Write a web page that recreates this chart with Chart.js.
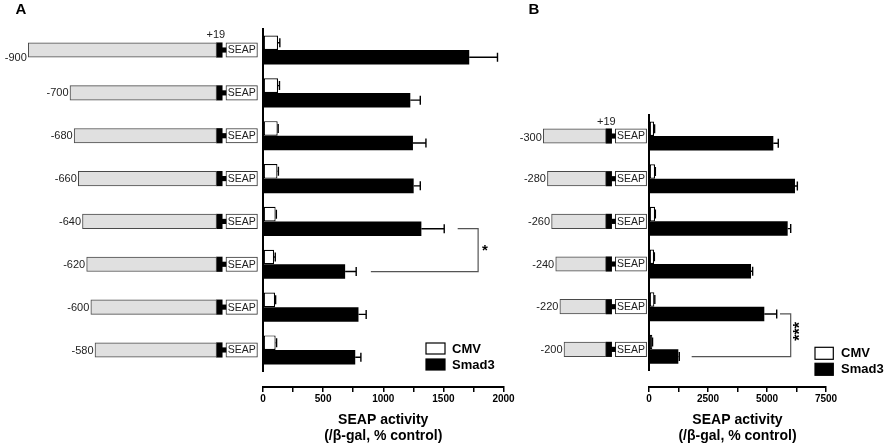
<!DOCTYPE html>
<html><head><meta charset="utf-8">
<script src="https://cdn.jsdelivr.net/npm/chart.js@4.4.1/dist/chart.umd.min.js"></script>
<style>
html,body{margin:0;padding:0;background:#fff;}
body{width:886px;height:445px;position:relative;overflow:hidden;}
canvas{position:absolute;top:0;}
</style></head><body>
<canvas id="chartA" width="524" height="445" style="left:0"></canvas>
<canvas id="chartB" width="386" height="445" style="left:500px"></canvas>
<script>
// ---------------- data ----------------
const seriesLabels = ['CMV', 'Smad3'];
const axisTitle = ['SEAP activity', '(/\u03b2-gal, % control)'];
const reporterLabel = 'SEAP';
const tssLabel = '+19';

// Panel A
const constructsA = ['-900', '-700', '-680', '-660', '-640', '-620', '-600', '-580'];
const startsA = [-900, -700, -680, -660, -640, -620, -600, -580];
const cmvA = [125, 125, 122, 120, 105, 92, 100, 105];
const cmvErrA = [15, 12, 4, 8, 6, 10, 5, 8];
const smadA = [1715, 1225, 1247, 1253, 1317, 683, 794, 767];
const smadErrA = [235, 83, 108, 55, 190, 92, 64, 47];
const tickLabelsA = [0, 500, 1000, 1500, 2000];

// Panel B
const constructsB = ['-300', '-280', '-260', '-240', '-220', '-200'];
const startsB = [-300, -280, -260, -240, -220, -200];
const cmvB = [212, 254, 254, 212, 226, 140];
const cmvErrB = [25, 15, 15, 15, 20, 10];
const smadB = [5268, 6186, 5876, 4322, 4886, 1243];
const smadErrB = [210, 100, 128, 70, 525, 40];
const tickLabelsB = [0, 2500, 5000, 7500];

// construct parts (bp relative to transcription start)
const promoterEnd = 3;
const tssBox = [3, 30];
const linker = [30, 48];
const reporterBox = [48, 199];

// ---------------- drawing helpers ----------------
const FONT = '"Liberation Sans", Arial, Helvetica, sans-serif';
Chart.defaults.font.family = FONT;
Chart.defaults.color = '#000';

const decor = {
  id: 'decor',
  afterDatasetsDraw(chart, args, o) {
    const ctx = chart.ctx;
    const xs = chart.scales.x, bp = chart.scales.x2, ys = chart.scales.y;
    const ds = chart.data.datasets;
    const role = r => ds.find(d => d.role === r);
    ctx.save();
    // error bars
    ds.forEach((d, di) => {
      if (!d.errors) return;
      const meta = chart.getDatasetMeta(di);
      ctx.strokeStyle = '#000';
      ctx.lineWidth = 1.4;
      meta.data.forEach((el, i) => {
        const a = xs.getPixelForValue(d.data[i]);
        const b = xs.getPixelForValue(d.data[i] + d.errors[i]);
        ctx.beginPath();
        ctx.moveTo(a, el.y); ctx.lineTo(b, el.y);
        ctx.moveTo(b, el.y - o.cap / 2); ctx.lineTo(b, el.y + o.cap / 2);
        ctx.stroke();
      });
    });
    // construct names
    const prom = role('promoter');
    ctx.fillStyle = '#222';
    ctx.font = '11px ' + FONT;
    ctx.textAlign = 'right';
    ctx.textBaseline = 'middle';
    chart.data.labels.forEach((lab, i) => {
      ctx.fillText(lab, bp.getPixelForValue(prom.data[i][0]) - 1.5,
        ys.getPixelForValue(i) + (i === 0 ? o.firstLabelDy : 0) + 0.5);
    });
    // reporter box text
    const rep = role('reporter');
    ctx.textAlign = 'center';
    ctx.font = '10.5px ' + FONT;
    rep.data.forEach((r, i) => {
      ctx.fillText(rep.label, bp.getPixelForValue((r[0] + r[1]) / 2), ys.getPixelForValue(i) + 0.5);
    });
    // +19
    const tss = role('tss');
    ctx.font = '11px ' + FONT;
    ctx.textAlign = 'right';
    ctx.fillText(tssLabel, bp.getPixelForValue(tss.data[0][1]) + o.tssDx, ys.getPixelForValue(0) - o.tssDy);
    // significance bracket
    const s = o.sig;
    const sm = chart.getDatasetMeta(1);
    const yLow = sm.data[s.lowRow].y, yHigh = sm.data[s.highRow].y;
    ctx.strokeStyle = '#555';
    ctx.lineWidth = 1.2;
    ctx.beginPath();
    ctx.moveTo(xs.getPixelForValue(s.lowFrom), yLow);
    ctx.lineTo(xs.getPixelForValue(s.at), yLow);
    ctx.lineTo(xs.getPixelForValue(s.at), yHigh);
    ctx.lineTo(xs.getPixelForValue(s.highFrom), yHigh);
    ctx.stroke();
    ctx.save();
    ctx.translate(xs.getPixelForValue(s.textAt), (yLow + yHigh) / 2 + s.dy);
    if (s.rotate) ctx.rotate(-Math.PI / 2);
    ctx.font = s.font;
    ctx.fillStyle = '#000';
    ctx.textAlign = 'center';
    ctx.textBaseline = 'middle';
    ctx.fillText(s.text, 0, 0);
    ctx.restore();
    // legend
    const L = o.legend;
    ctx.font = 'bold 13px ' + FONT;
    ctx.textAlign = 'left';
    ctx.textBaseline = 'middle';
    [0, 1].forEach(k => {
      const d = ds[k];
      const yy = L.y + k * L.step;
      ctx.fillStyle = d.backgroundColor;
      ctx.fillRect(L.x, yy, L.w, L.h);
      ctx.strokeStyle = '#000';
      ctx.lineWidth = 1.2;
      ctx.strokeRect(L.x, yy, L.w, L.h);
      ctx.fillStyle = '#000';
      ctx.fillText(d.label, L.x + L.textDx, yy + L.h / 2 + 0.5);
    });
    // panel letter
    ctx.font = 'bold 15px ' + FONT;
    ctx.textAlign = 'center';
    ctx.fillText(o.letter.text, o.letter.x, o.letter.y);
    ctx.restore();
  }
};

function makeChart(id, p) {
  const datasets = [
    { label: seriesLabels[0], role: 'cmv', data: p.cmv, errors: p.cmvErr, xAxisID: 'x', yAxisID: 'y',
      backgroundColor: '#ffffff', borderColor: '#000', borderWidth: 1.2, borderSkipped: false },
    { label: seriesLabels[1], role: 'smad', data: p.smad, errors: p.smadErr, xAxisID: 'x', yAxisID: 'y',
      backgroundColor: '#000000', borderColor: '#000', borderWidth: 0 },
    { label: 'promoter', role: 'promoter', data: p.starts.map(s => [s, promoterEnd]), xAxisID: 'x2', yAxisID: 'y',
      grouped: false, barThickness: 14.5, clip: false, backgroundColor: '#e0e0e0', borderColor: '#4a4a4a',
      borderWidth: 1, borderSkipped: false },
    { label: 'tss', role: 'tss', data: p.starts.map(() => tssBox.slice()), xAxisID: 'x2', yAxisID: 'y',
      grouped: false, barThickness: 14.5, clip: false, backgroundColor: '#000', borderWidth: 0 },
    { label: 'linker', role: 'linker', data: p.starts.map(() => linker.slice()), xAxisID: 'x2', yAxisID: 'y',
      grouped: false, barThickness: 4.5, clip: false, backgroundColor: '#000', borderWidth: 0 },
    { label: reporterLabel, role: 'reporter', data: p.starts.map(() => reporterBox.slice()), xAxisID: 'x2', yAxisID: 'y',
      grouped: false, barThickness: 14.5, clip: false, backgroundColor: '#fff', borderColor: '#333',
      borderWidth: 1, borderSkipped: false }
  ];
  const maxV = p.tickLabels[p.tickLabels.length - 1];
  return new Chart(document.getElementById(id), {
    type: 'bar',
    data: { labels: p.labels, datasets },
    options: {
      indexAxis: 'y',
      responsive: false,
      animation: false,
      categoryPercentage: 0.68,
      barPercentage: 1.0,
      layout: { padding: p.padding },
      scales: {
        y: {
          type: 'category', position: 'left', stack: 'v', stackWeight: p.rowsWeight, weight: 1,
          grid: { display: false },
          border: { display: true, color: '#000', width: 2 },
          ticks: { display: false },
          afterFit: s => { s.width = 0; }
        },
        gap: {
          type: 'linear', position: 'left', stack: 'v', stackWeight: p.gapWeight, weight: 0,
          grid: { display: false }, border: { display: false }, ticks: { display: false },
          afterFit: s => { s.width = 0; }
        },
        x: {
          type: 'linear', position: 'bottom', min: 0, max: maxV,
          grid: { display: true, drawOnChartArea: false, drawTicks: true, tickLength: 5, color: '#000', lineWidth: 1.5 },
          border: { display: true, color: '#000', width: 2 },
          ticks: {
            stepSize: p.tickLabels[1] / 2, autoSkip: false, maxRotation: 0, padding: 1,
            font: { size: 10, weight: 'bold' }, color: '#000',
            callback: v => (p.tickLabels.includes(v) ? String(v) : '')
          },
          title: { display: true, text: axisTitle, color: '#000',
            font: { size: 14, weight: 'bold', lineHeight: 1.15 }, padding: { top: 2, bottom: 1 } },
          afterFit: s => { s.height = 58; }
        },
        x2: { type: 'linear', position: 'bottom', display: false, min: p.bpMin, max: p.bpMax }
      },
      plugins: {
        legend: { display: false },
        tooltip: { enabled: false },
        decor: p.decor
      }
    },
    plugins: [decor]
  });
}

makeChart('chartA', {
  labels: constructsA, starts: startsA, cmv: cmvA, cmvErr: cmvErrA, smad: smadA, smadErr: smadErrA,
  tickLabels: tickLabelsA,
  padding: { left: 263, right: 20.5, top: 28.6, bottom: 0 },
  rowsWeight: 342.8, gapWeight: 15.6,
  bpMin: 225.7, bpMax: 1379.2,
  decor: {
    cap: 9, firstLabelDy: 7, tssDx: 3, tssDy: 15,
    sig: { lowRow: 5, highRow: 4, lowFrom: 897, at: 1789, highFrom: 1619, textAt: 1846, dy: 1,
      text: '*', rotate: false, font: 'bold 15px ' + FONT },
    legend: { x: 426, y: 343, w: 19, h: 11, step: 16, textDx: 26 },
    letter: { text: 'A', x: 21, y: 10 }
  }
});

makeChart('chartB', {
  labels: constructsB, starts: startsB, cmv: cmvB, cmvErr: cmvErrB, smad: smadB, smadErr: smadErrB,
  tickLabels: tickLabelsB,
  padding: { left: 149, right: 60, top: 114.7, bottom: 0 },
  rowsWeight: 256, gapWeight: 16.3,
  bpMin: 210.6, bpMax: 1065.7,
  decor: {
    cap: 9, firstLabelDy: 1.5, tssDx: 4, tssDy: 14,
    sig: { lowRow: 5, highRow: 4, lowFrom: 1808, at: 6004, highFrom: 5551, textAt: 6420, dy: -4,
      text: '***', rotate: true, font: 'bold 16px ' + FONT },
    legend: { x: 315, y: 347.3, w: 18.3, h: 12, step: 16, textDx: 26 },
    letter: { text: 'B', x: 34, y: 10 }
  }
});
</script>
</body></html>
